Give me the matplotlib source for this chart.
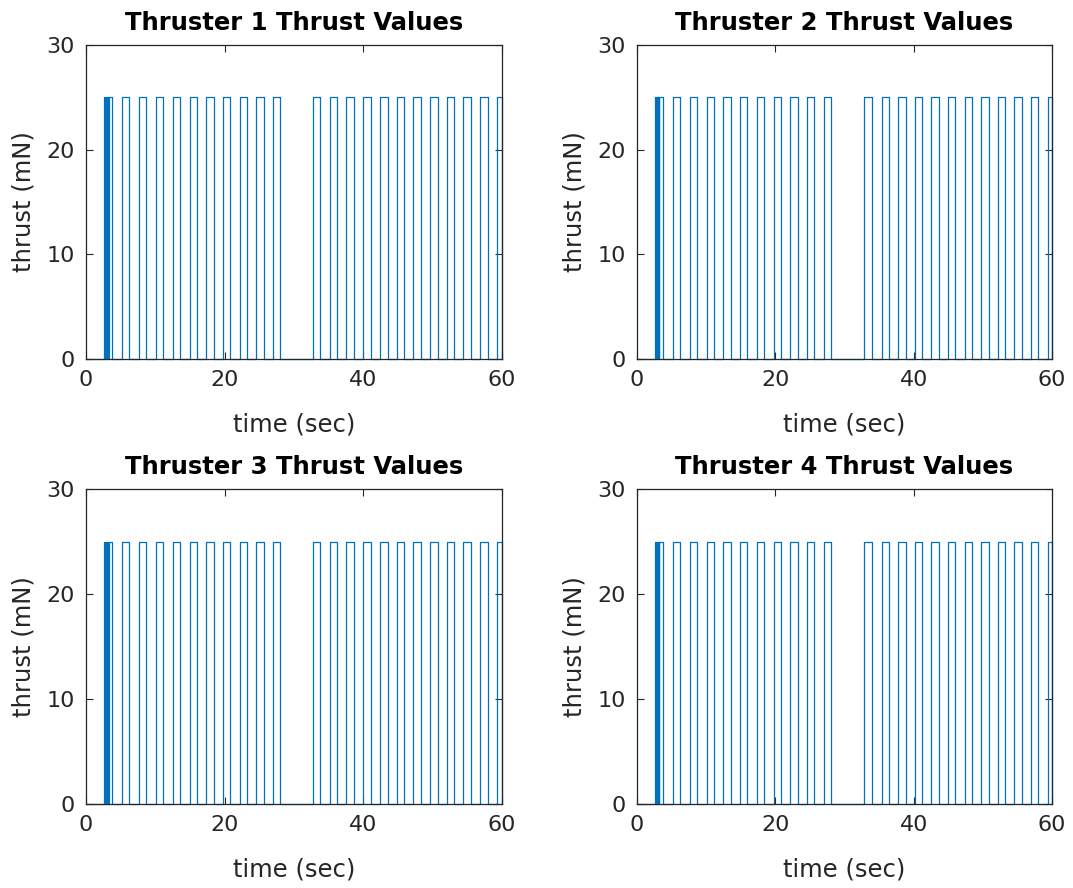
import matplotlib
matplotlib.use('Agg')
import matplotlib.pyplot as plt

# pulse on / off times (sec), thrust level in mN
thrust_level = 25

on_13 = [2.65, 2.95, 3.10, 3.25, 5.15, 7.60, 10.05, 12.50, 14.96, 17.36, 19.76, 22.16, 24.56, 26.97,
         32.74, 35.15, 37.54, 39.94, 42.41, 44.81, 47.20, 49.62, 52.02, 54.41, 56.83, 59.29]
off_13 = [2.80, 3.05, 3.20, 3.75, 6.25, 8.65, 11.10, 13.56, 15.96, 18.41, 20.81, 23.22, 25.62, 28.02,
          33.80, 36.20, 38.66, 41.06, 43.51, 45.91, 48.32, 50.72, 53.12, 55.53, 57.94, 60.0]

on_24 = [2.65, 2.90, 3.05, 3.20, 5.15, 7.60, 10.05, 12.50, 14.96, 17.36, 19.76, 22.16, 24.56, 26.97,
         32.87, 35.37, 37.77, 40.17, 42.57, 44.97, 47.37, 49.77, 52.17, 54.57, 56.97, 59.37]
off_24 = [2.75, 3.00, 3.15, 3.70, 6.25, 8.65, 11.10, 13.56, 15.96, 18.41, 20.81, 23.22, 25.62, 28.02,
          33.94, 36.43, 38.83, 41.23, 43.63, 46.03, 48.43, 50.83, 53.23, 55.63, 58.03, 60.0]

titles = ['Thruster 1 Thrust Values', 'Thruster 2 Thrust Values',
          'Thruster 3 Thrust Values', 'Thruster 4 Thrust Values']
pulses = [(on_13, off_13), (on_24, off_24), (on_13, off_13), (on_24, off_24)]


def square_wave(on, off, level, t_end=60.0):
    t = [0.0]
    y = [0.0]
    for a, b in zip(on, off):
        t += [a, a, b, b]
        y += [0.0, level, level, 0.0]
    if t[-1] < t_end:
        t.append(t_end)
        y.append(0.0)
    return t, y


fig = plt.figure(figsize=(10.73, 8.88), dpi=100)
W, H = 1073.0, 888.0
boxes = [(86, 45, 502, 359), (637, 45, 1052, 359),
         (86, 489, 502, 804), (637, 489, 1052, 804)]
dark = '#262626'

for i in range(4):
    x0, y0, x1, y1 = boxes[i]
    ax = fig.add_axes([x0 / W, 1 - y1 / H, (x1 - x0) / W, (y1 - y0) / H])
    t, y = square_wave(pulses[i][0], pulses[i][1], thrust_level)
    ax.plot(t, y, color='#0072BD', lw=0.9, clip_on=False)
    ax.set_xlim(0, 60)
    ax.set_ylim(0, 30)
    ax.set_xticks([0, 20, 40, 60])
    ax.set_yticks([0, 10, 20, 30])
    ax.tick_params(direction='in', top=True, right=True, length=5, width=0.8,
                   labelsize=16, colors=dark, pad=8)
    for s in ax.spines.values():
        s.set_color(dark)
        s.set_linewidth(0.9)
    ax.set_title(titles[i], fontsize=17.5, fontweight='bold', pad=11)
    ax.set_xlabel('time (sec)', fontsize=17.5, color=dark, labelpad=16)
    ax.set_ylabel('thrust (mN)', fontsize=17.5, color=dark, labelpad=8)

plt.savefig('out.png')
